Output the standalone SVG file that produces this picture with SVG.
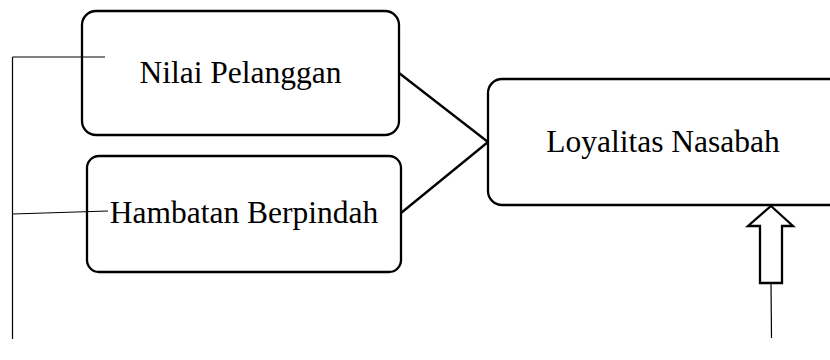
<svg xmlns="http://www.w3.org/2000/svg" width="830" height="360" viewBox="0 0 830 360">
<style>
.box{fill:#fff;stroke:#000;stroke-width:2.3}
.lbl{font-family:"Liberation Serif","Times New Roman",serif;font-size:31.5px;fill:#000;text-anchor:middle}
.thin{stroke:#000;stroke-width:1.2;fill:none}
.con{stroke:#000;stroke-width:2.3;fill:none}
</style>
<rect width="830" height="360" fill="#fff"/>
<g id="n1">
<rect class="box" x="82" y="11" width="317" height="124" rx="14"/>
<text class="lbl" x="240.5" y="83">Nilai Pelanggan</text>
</g>
<g id="n2">
<rect class="box" x="87" y="156" width="314" height="116" rx="12"/>
<text class="lbl" x="244" y="223">Hambatan Berpindah</text>
</g>
<g id="n3">
<rect class="box" x="488" y="79" width="356" height="126" rx="14"/>
<text class="lbl" x="663" y="152">Loyalitas Nasabah</text>
</g>
<g id="connectors">
<line class="con" x1="399" y1="73" x2="488" y2="142"/>
<line class="con" x1="401" y1="213" x2="488" y2="142"/>
<line class="thin" x1="12.5" y1="57" x2="12.5" y2="339"/>
<line class="thin" x1="12.5" y1="57" x2="105" y2="57"/>
<line class="thin" x1="12.5" y1="214" x2="108" y2="211"/>
<polygon class="con" points="771,206 793,226 782,226 782,283 760,283 760,226 748,226"/>
<line class="thin" x1="771" y1="283" x2="771.5" y2="338"/>
</g>
</svg>
